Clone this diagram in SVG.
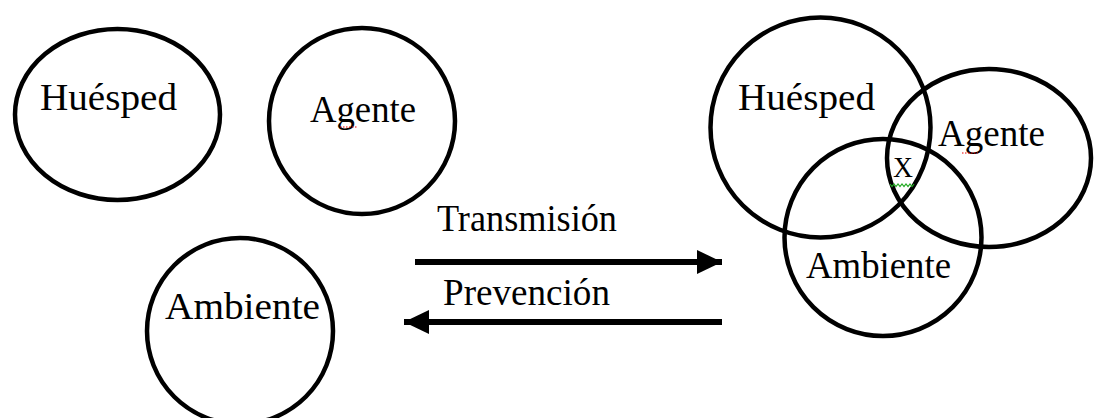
<svg xmlns="http://www.w3.org/2000/svg" width="1094" height="418" viewBox="0 0 1094 418">
<style>
.c{fill:none;stroke:#000;stroke-width:4.5}
.t{font-family:'Liberation Serif','DejaVu Serif','Noto Serif',serif;font-size:37px;fill:#000}
.tx{font-family:'Liberation Serif','DejaVu Serif','Noto Serif',serif;font-size:29px;fill:#000}
.a{stroke:#000;stroke-width:6;fill:none}
.sr{fill:none;stroke:#e00;stroke-width:1.2;stroke-dasharray:1.5 1.5}
.sg{fill:none;stroke:#2a2;stroke-width:1.2}
</style>
<defs>
<marker id="ah" markerUnits="userSpaceOnUse" markerWidth="26" markerHeight="26" refX="25" refY="12" orient="auto">
<path d="M0,0 L25,12 L0,24 z" fill="#000"/>
</marker>
</defs>
<rect width="1094" height="418" fill="#fff"/>
<g id="huesped-left">
<ellipse class="c" cx="117.5" cy="114.5" rx="102.5" ry="85.5"/>
<text class="t" font-family="Liberation Serif, DejaVu Serif, serif" x="40" y="110" textLength="137" lengthAdjust="spacingAndGlyphs">Huésped</text>
</g>
<g id="agente-left">
<circle class="c" cx="362" cy="121" r="93"/>
<text class="t" font-family="Liberation Serif, DejaVu Serif, serif" x="310" y="122" textLength="106" lengthAdjust="spacingAndGlyphs">Agente</text>
<path class="sr" d="M340,127 L357,127"/>
</g>
<g id="ambiente-left">
<circle class="c" cx="240" cy="331" r="93"/>
<text class="t" font-family="Liberation Serif, DejaVu Serif, serif" x="165" y="319" textLength="155" lengthAdjust="spacingAndGlyphs">Ambiente</text>
</g>
<g id="connectors">
<line class="a" x1="415" y1="262" x2="722" y2="262" marker-end="url(#ah)"/>
<line class="a" x1="722" y1="322" x2="404" y2="322" marker-end="url(#ah)"/>
<text class="t" font-family="Liberation Serif, DejaVu Serif, serif" x="437" y="231" textLength="180" lengthAdjust="spacingAndGlyphs">Transmisión</text>
<text class="t" font-family="Liberation Serif, DejaVu Serif, serif" x="443" y="305" textLength="167" lengthAdjust="spacingAndGlyphs">Prevención</text>
</g>
<g id="huesped-right">
<circle class="c" cx="820.5" cy="127.5" r="110"/>
<text class="t" font-family="Liberation Serif, DejaVu Serif, serif" x="738" y="110" textLength="137" lengthAdjust="spacingAndGlyphs">Huésped</text>
</g>
<g id="agente-right">
<ellipse class="c" cx="989" cy="158" rx="102" ry="89"/>
<text class="t" font-family="Liberation Serif, DejaVu Serif, serif" x="938" y="146" textLength="107" lengthAdjust="spacingAndGlyphs">Agente</text>
<path class="sr" d="M962,153 L978,153"/>
</g>
<g id="ambiente-right">
<circle class="c" cx="883" cy="237.5" r="98.5"/>
<text class="t" font-family="Liberation Serif, DejaVu Serif, serif" x="806" y="278" textLength="145" lengthAdjust="spacingAndGlyphs">Ambiente</text>
</g>
<g id="x-intersection">
<text class="tx" font-family="Liberation Serif, DejaVu Serif, serif" x="893" y="177" textLength="20" lengthAdjust="spacingAndGlyphs">X</text>
<polyline class="sg" points="890,184 892,186.5 894,184 896,186.5 898,184 900,186.5 902,184 904,186.5 906,184 908,186.5 910,184 912,186.5 914,184"/>
</g>
</svg>
